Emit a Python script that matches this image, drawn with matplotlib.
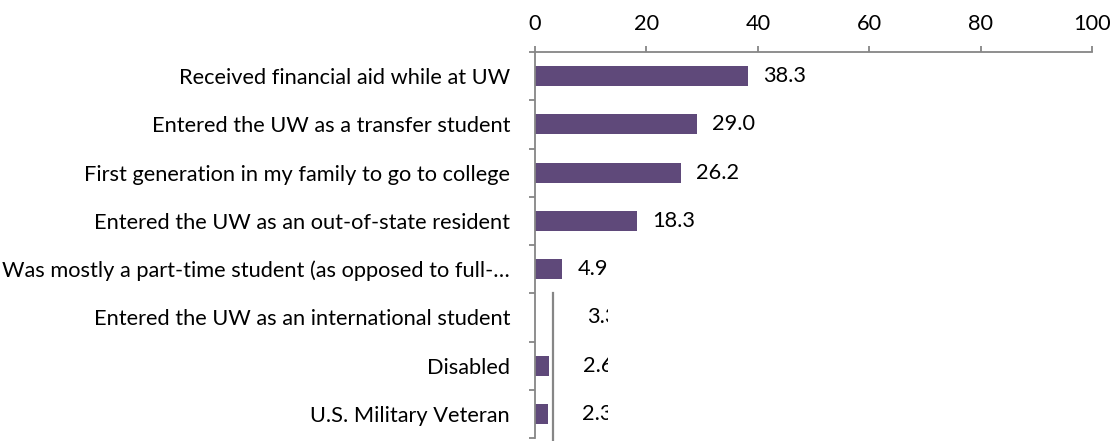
import matplotlib
matplotlib.use("Agg")
import matplotlib.pyplot as plt
from matplotlib.patches import Rectangle
from matplotlib.ticker import FixedLocator

categories = [
    "Received financial aid while at UW",
    "Entered the UW as a transfer student",
    "First generation in my family to go to college",
    "Entered the UW as an out-of-state resident",
    "Was mostly a part-time student (as opposed to full-\u2026",
    "Entered the UW as an international student",
    "Disabled",
    "U.S. Military Veteran",
]
values = [38.3, 29.0, 26.2, 18.3, 4.9, 3.3, 2.6, 2.3]
x_ticks = [0, 20, 40, 60, 80, 100]

BAR = "#5F497A"
GRID = "#868686"
FONT = "Lato"
FS = 15.7

W, H = 1119, 441
fig = plt.figure(figsize=(W / 100, H / 100), dpi=100)
ax = fig.add_axes([535 / W, 3 / H, 557 / W, 386 / H])

n = len(categories)
ypos = list(range(n))

# the international-student bar is masked in white, as in the source graphic
colors = [BAR] * n
colors[5] = "white"
ax.barh(ypos, values, height=0.41, color=colors, zorder=2)

ax.set_xlim(0, 100)
ax.set_ylim(n - 0.5, -0.5)

ax.xaxis.tick_top()
ax.set_xticks(x_ticks)
ax.set_xticklabels([str(t) for t in x_ticks], fontsize=FS, family=FONT)
ax.tick_params(axis="x", which="major", direction="out", length=4, width=1.3,
               color=GRID, pad=9)

ax.set_yticks(ypos)
ax.set_yticklabels(categories, fontsize=FS, family=FONT)
ax.tick_params(axis="y", which="major", length=0, pad=18)
ax.yaxis.set_minor_locator(FixedLocator([i - 0.5 for i in range(n + 1)]))
ax.tick_params(axis="y", which="minor", direction="out", length=4, width=1.3,
               color=GRID)

for side in ("right", "bottom"):
    ax.spines[side].set_visible(False)
for side in ("left", "top"):
    ax.spines[side].set_color(GRID)
    ax.spines[side].set_linewidth(1.3)

# vertical rule through the lower rows
ax.plot([values[5], values[5]], [4.5, n - 0.45], color=GRID, lw=1.6,
        clip_on=False, zorder=3)

# value labels; the lower three are cut off on the right
clip_rect = Rectangle((0, 0), (608 - 535) / 557, 1, transform=ax.transAxes)
for i, v in enumerate(values):
    off = 15 if i < 5 else 34
    t = ax.annotate(f"{v:.1f}", xy=(v, i), xytext=(off * 0.72, 0),
                    textcoords="offset points", va="center", ha="left",
                    fontsize=FS, family=FONT, color="black")
    if i >= 5:
        t.set_clip_path(clip_rect)

fig.savefig("out.png", dpi=100, facecolor="white")
